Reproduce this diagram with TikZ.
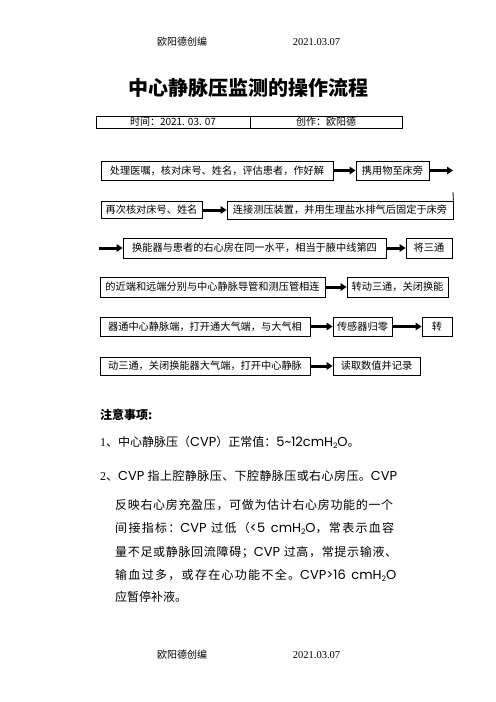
\documentclass[tikz,border=0pt]{standalone}
\usepackage{fontspec}
\setmainfont{Noto Sans CJK SC}
\newfontfamily\pop[Scale=1.08]{Poppins}
\newfontfamily\tms{Liberation Serif}
\usetikzlibrary{arrows.meta}
\XeTeXinterchartokenstate=1
\newXeTeXintercharclass\CJKc
\makeatletter
\count@="3000
\loop\ifnum\count@<"3040 \XeTeXcharclass\count@=\CJKc \advance\count@ 1 \repeat
\count@="4E00
\loop\ifnum\count@<"A000 \XeTeXcharclass\count@=\CJKc \advance\count@ 1 \repeat
\count@="FF00
\loop\ifnum\count@<"FFF0 \XeTeXcharclass\count@=\CJKc \advance\count@ 1 \repeat
\makeatother
\XeTeXinterchartoks\CJKc\CJKc={\hskip0pt plus 1pt\relax}
\newcommand\subtwo{\raisebox{-1.8bp}{\fontsize{7bp}{7bp}\selectfont 2}}
\tikzset{
  box/.style={draw, line width=0.8bp, inner sep=0pt, anchor=center,
    font=\fontsize{10.2bp}{12bp}\selectfont},
  flow/.style={line width=3bp, -{Triangle[length=6bp,width=7.5bp]}},
  hdr/.style={inner sep=0pt, font=\fontsize{10bp}{12bp}\selectfont},
  note/.style={inner sep=0pt, anchor=west, font=\fontsize{12bp}{14bp}\selectfont},
  cell/.style={draw, line width=0.8bp, inner sep=0pt, minimum height=12bp,
    font=\fontsize{10bp}{12bp}\selectfont}
}
\begin{document}
\begin{tikzpicture}[x=1bp,y=-1bp]
\useasboundingbox (0,0) rectangle (496,702);
% header / footer
\node[hdr] (h1) at (182,42) {欧阳德创编};
\node[hdr] (h2) at (316.5,42) {\tms\fontsize{10.5bp}{12bp}\selectfont 2021.03.07};
\node[hdr] (f1) at (182,655) {欧阳德创编};
\node[hdr] (f2) at (316.5,655) {\tms\fontsize{10.5bp}{12bp}\selectfont 2021.03.07};
% title
\node[inner sep=0pt] (title) at (248,88) {\fontsize{20bp}{24bp}\selectfont\bfseries 中心静脉压监测的操作流程};
% table
\node[cell, minimum width=154bp] (t1) at (173,122) {时间：2021. 03. 07};
\node[cell, minimum width=152bp] (t2) at (326,122) {创作：欧阳德};
% flow boxes
\node[box, minimum width=232bp, minimum height=19bp] (b1) at (217,170.5) {处理医嘱，核对床号、姓名，评估患者，作好解};
\node[box, minimum width=73bp, minimum height=19bp] (b2) at (392.5,170.5) {携用物至床旁};
\coordinate (e2) at (453,170.5);
\coordinate (v1) at (453,192);
\node[box, minimum width=101bp, minimum height=17bp] (b3) at (151.5,210) {再次核对床号、姓名};
\node[box, minimum width=226bp, minimum height=18bp] (b4) at (340,210) {连接测压装置，并用生理盐水排气后固定于床旁};
\coordinate (s3) at (99,248);
\node[box, minimum width=263bp, minimum height=20bp] (b5) at (254.5,248) {换能器与患者的右心房在同一水平，相当于腋中线第四};
\node[box, minimum width=46bp, minimum height=20bp] (b6) at (429,248) {将三通};
\node[box, minimum width=225bp, minimum height=20bp] (b7) at (212.5,287) {的近端和远端分别与中心静脉导管和测压管相连};
\node[box, minimum width=101bp, minimum height=20bp] (b8) at (397.5,287) {转动三通，关闭换能};
\node[box, minimum width=210bp, minimum height=19bp] (b9) at (205,326.5) {器通中心静脉端，打开通大气端，与大气相};
\node[box, minimum width=59bp, minimum height=19bp] (b10) at (362.5,326.5) {传感器归零};
\node[box, minimum width=30bp, minimum height=19bp] (b11) at (437,326.5) {转};
\node[box, minimum width=210bp, minimum height=18bp] (b12) at (205,366) {动三通，关闭换能器大气端，打开中心静脉};
\node[box, minimum width=87bp, minimum height=18bp] (b13) at (376.5,366) {读取数值并记录};
% connectors
\draw[flow] (b1.east) -- (b2.west);
\draw[flow] (b2.east) -- (e2);
\draw[line width=0.8bp] (v1) -- (b4.north east);
\draw[flow] (b3.east) -- (b4.west);
\draw[flow] (s3) -- (b5.west);
\draw[flow] (b5.east) -- (b6.west);
\draw[flow] (b7.east) -- (b8.west);
\draw[flow] (b9.east) -- (b10.west);
\draw[flow] (b10.east) -- (b11.west);
\draw[flow] (b12.east) -- (b13.west);
% notes
\node[note] (n0) at (100,415) {\bfseries 注意事项:};
\node[note] (n1) at (100,442) {{\tms 1}、中心静脉压（{\pop CVP}）正常值：{\pop 5\textasciitilde12cmH\subtwo O}。};
\node[note] (n2) at (100,476) {\makebox[297bp][s]{{\tms 2}、{\pop CVP} 指上腔静脉压、下腔静脉压或右心房压。{\pop CVP}}};
\node[note] (n3) at (115,505) {\makebox[278bp][s]{反映右心房充盈压，可做为估计右心房功能的一个}};
\node[note] (n4) at (115,528) {\makebox[279bp][s]{间接指标：{\pop CVP} 过低（{\pop <5 cmH\subtwo O}，常表示血容}};
\node[note] (n5) at (115,552) {\makebox[282bp][s]{量不足或静脉回流障碍；{\pop CVP} 过高，常提示输液、}};
\node[note] (n6) at (115,575) {\makebox[281bp][s]{输血过多，或存在心功能不全。{\pop CVP>16 cmH\subtwo O}}};
\node[note] (n7) at (115,597) {应暂停补液。};
\end{tikzpicture}
\end{document}
